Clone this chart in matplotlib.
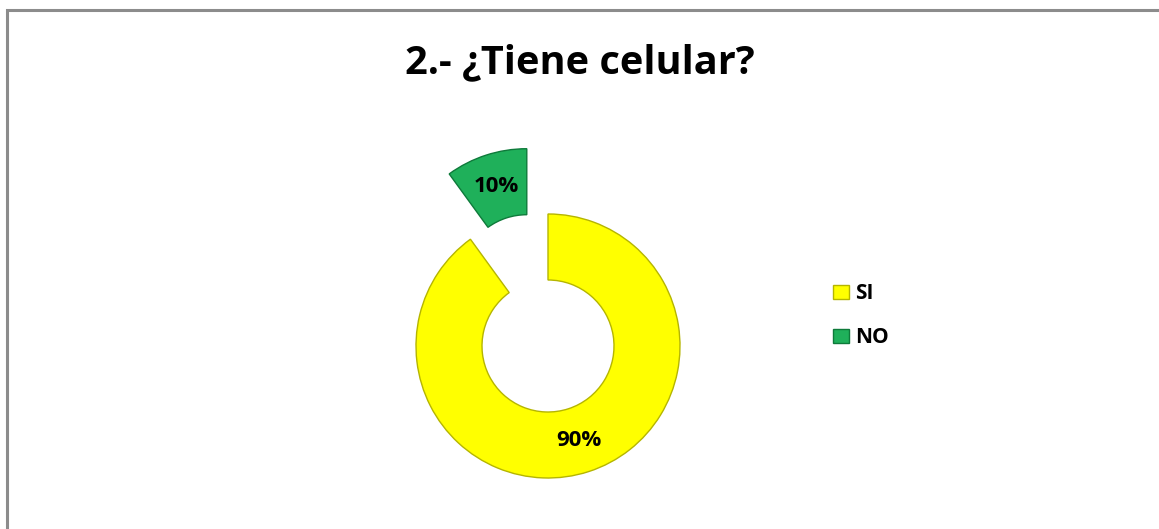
import matplotlib
matplotlib.use('Agg')
import matplotlib.pyplot as plt
from matplotlib.patches import Rectangle

plt.rcParams['font.family'] = ['Open Sans', 'DejaVu Sans']

# datos
categorias = ['SI', 'NO']
valores = [90, 10]
colores = ['#FFFF00', '#1FB05A']
bordes = ['#B5B500', '#0E7A3A']
titulo = '2.- ¿Tiene celular?'

W, H = 1159, 529
fig = plt.figure(figsize=(W / 100, H / 100), dpi=100)

# marco gris
fig.patches.append(Rectangle((7 / W, -0.1), 1.2, 1 - 10 / H + 0.1,
                             transform=fig.transFigure, facecolor='none',
                             edgecolor='#8c8c8c', linewidth=2.2))

# ejes: 1 unidad = radio del anillo (132 px), centro en (548, 346)
R = 132.0
cx, cy = 548.0, H - 346.0
ax = fig.add_axes([0, 0, 1, 1])
wedges, texts, autotexts = ax.pie(
    valores, colors=colores, startangle=90, counterclock=False,
    explode=[0, 0.52], radius=1.0, autopct='%1.0f%%', pctdistance=0.75,
    wedgeprops=dict(width=0.5, linewidth=1.0),
    textprops=dict(fontsize=16, fontweight='bold', color='black'))
for w, ec in zip(wedges, bordes):
    w.set_edgecolor(ec)
ax.set_aspect('auto')
ax.set_xlim(-cx / R, (W - cx) / R)
ax.set_ylim(-cy / R, (H - cy) / R)
ax.axis('off')

fig.text(0.5, 1 - 73 / H, titulo, ha='center', va='baseline',
         fontsize=28.6, fontweight='bold')

ax.legend(wedges, categorias, loc='center left',
          bbox_to_anchor=(833 / W, 1 - 315.5 / H), bbox_transform=fig.transFigure,
          frameon=False, borderpad=0, borderaxespad=0,
          handlelength=0.75, handleheight=0.65, handletextpad=0.3,
          labelspacing=1.1, prop=dict(size=15, weight='bold'))

fig.savefig('out.png', dpi=100)
